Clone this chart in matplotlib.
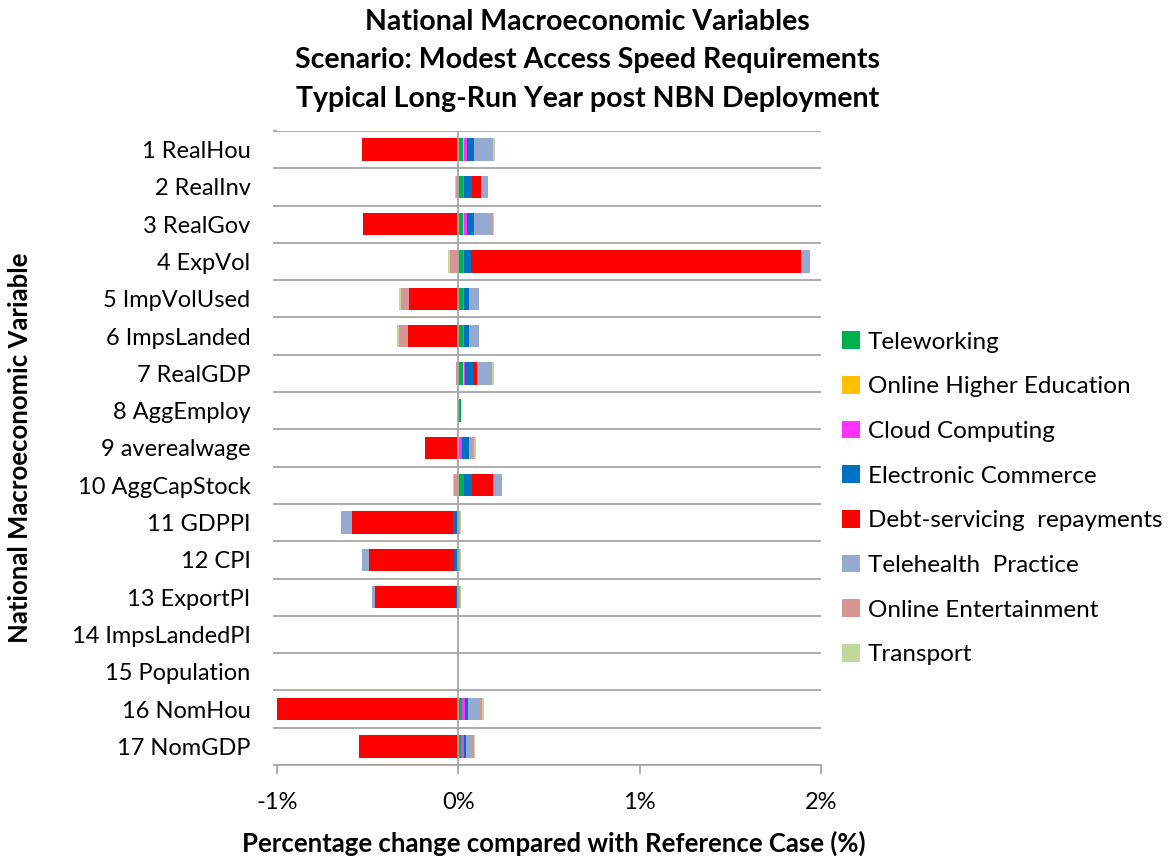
import numpy as np
import matplotlib
matplotlib.use("Agg")
import matplotlib.pyplot as plt
from matplotlib.patches import Patch

plt.rcParams['font.family'] = ['Lato', 'DejaVu Sans']

# Categories (top to bottom)
variables = ["1 RealHou", "2 RealInv", "3 RealGov", "4 ExpVol", "5 ImpVolUsed",
             "6 ImpsLanded", "7 RealGDP", "8 AggEmploy", "9 averealwage",
             "10 AggCapStock", "11 GDPPI", "12 CPI", "13 ExportPI",
             "14 ImpsLandedPI", "15 Population", "16 NomHou", "17 NomGDP"]

# Series values, percentage change vs reference case
teleworking = [0.024, 0.024, 0.024, 0.024, 0.024, 0.024, 0.024, 0.017, 0.0,
               0.033, 0.0, 0.0, 0.0, 0.0, 0.0, 0.022, 0.017]
higher_ed = [0.009, 0.004, 0.009, 0.0, 0.0, 0.0, 0.005, 0.0, 0.0,
             0.0, 0.0, 0.0, 0.0, 0.0, 0.0, 0.0, 0.0]
cloud = [0.015, 0.006, 0.015, 0.009, 0.009, 0.009, 0.007, 0.0, 0.022,
         0.0, 0.0, 0.0, 0.0, 0.0, 0.0, 0.015, 0.015]
ecommerce = [0.040, 0.042, 0.040, 0.035, 0.028, 0.028, 0.046, 0.0, 0.037,
             0.042, -0.028, -0.022, -0.011, 0.0, 0.0, 0.018, 0.013]
debt = [-0.530, 0.051, -0.527, 1.820, -0.270, -0.279, 0.022, 0.0, -0.185,
        0.116, -0.560, -0.472, -0.448, 0.0, 0.0, -1.000, -0.547]
telehealth = [0.105, 0.035, 0.097, 0.053, 0.051, 0.051, 0.084, 0.0, 0.018,
              0.050, -0.060, -0.039, -0.017, 0.0, 0.0, 0.064, 0.024]
entertainment = [0.0, -0.012, 0.007, -0.046, -0.046, -0.050, -0.011, 0.0, 0.009,
                 -0.022, 0.010, 0.008, 0.008, 0.0, 0.0, 0.013, 0.015]
transport = [0.009, -0.006, 0.007, -0.009, -0.009, -0.009, 0.007, 0.0, 0.009,
             -0.009, 0.005, 0.005, 0.005, 0.0, 0.0, 0.011, 0.009]

series_names = ["Teleworking", "Online Higher Education", "Cloud Computing",
                "Electronic Commerce", "Debt-servicing  repayments",
                "Telehealth  Practice", "Online Entertainment", "Transport"]
series_values = [teleworking, higher_ed, cloud, ecommerce, debt,
                 telehealth, entertainment, transport]
colors = ["#00B050", "#FFC000", "#FF33FF", "#0070C0", "#FF0000",
          "#95A9D1", "#D99594", "#C3D69B"]

fig = plt.figure(figsize=(11.75, 8.61), dpi=100)
ax = fig.add_axes([0.2357, 0.1115, 0.463, 0.7364])

# stacked bars: positives stack rightwards, negatives leftwards (Excel style)
y = np.arange(len(variables)) + 0.5
pos_left = np.zeros(len(variables))
neg_left = np.zeros(len(variables))
for vals, col in zip(series_values, colors):
    v = np.array(vals)
    left = np.where(v >= 0, pos_left, neg_left)
    ax.barh(y, v, left=left, height=0.6, color=col, edgecolor='none', zorder=3)
    pos_left += np.where(v > 0, v, 0)
    neg_left += np.where(v < 0, v, 0)

grid_col = "#A6A6A6"
ax.set_xlim(-1, 2)
ax.set_ylim(len(variables), 0)
ax.set_xticks([-1, 0, 1, 2])
ax.set_xticklabels(["-1%", "0%", "1%", "2%"], fontsize=17)
ax.set_yticks(y)
ax.set_yticklabels(variables, fontsize=17)
ax.set_yticks(np.arange(len(variables) + 1), minor=True)
ax.tick_params(axis='y', which='major', length=0, pad=19)
ax.tick_params(axis='y', which='minor', length=3, width=1.3, color=grid_col)
ax.tick_params(axis='x', length=6.5, width=1.3, color=grid_col, pad=13)
ax.grid(axis='y', which='minor', color=grid_col, lw=1.3, zorder=1)
ax.axvline(0, color=grid_col, lw=1.3, zorder=4)
for s in ['top', 'right', 'left']:
    ax.spines[s].set_visible(False)
ax.spines['bottom'].set_color(grid_col)
ax.spines['bottom'].set_linewidth(1.3)

title_lines = ["National Macroeconomic Variables",
               "Scenario: Modest Access Speed Requirements",
               "Typical Long-Run Year post NBN Deployment"]
for line, ty in zip(title_lines, [0.9745, 0.9303, 0.885]):
    fig.text(0.5, ty, line, ha='center', va='center', fontsize=20.5,
             fontweight='bold')
fig.text(0.017, 0.48, "National Macroeconomic Variable", rotation=90,
         ha='center', va='center', fontsize=18.5, fontweight='bold')
fig.text(0.471, 0.021, "Percentage change compared with Reference Case (%)",
         ha='center', va='center', fontsize=18.5, fontweight='bold')

handles = [Patch(facecolor=c, edgecolor='none') for c in colors]
fig.legend(handles, series_names, loc='upper left',
           bbox_to_anchor=(0.717, 0.615), frameon=False, fontsize=17.5,
           handlelength=0.74, handleheight=0.74, handletextpad=0.3,
           labelspacing=0.96, borderpad=0, borderaxespad=0)

fig.savefig("out.png", dpi=100)
